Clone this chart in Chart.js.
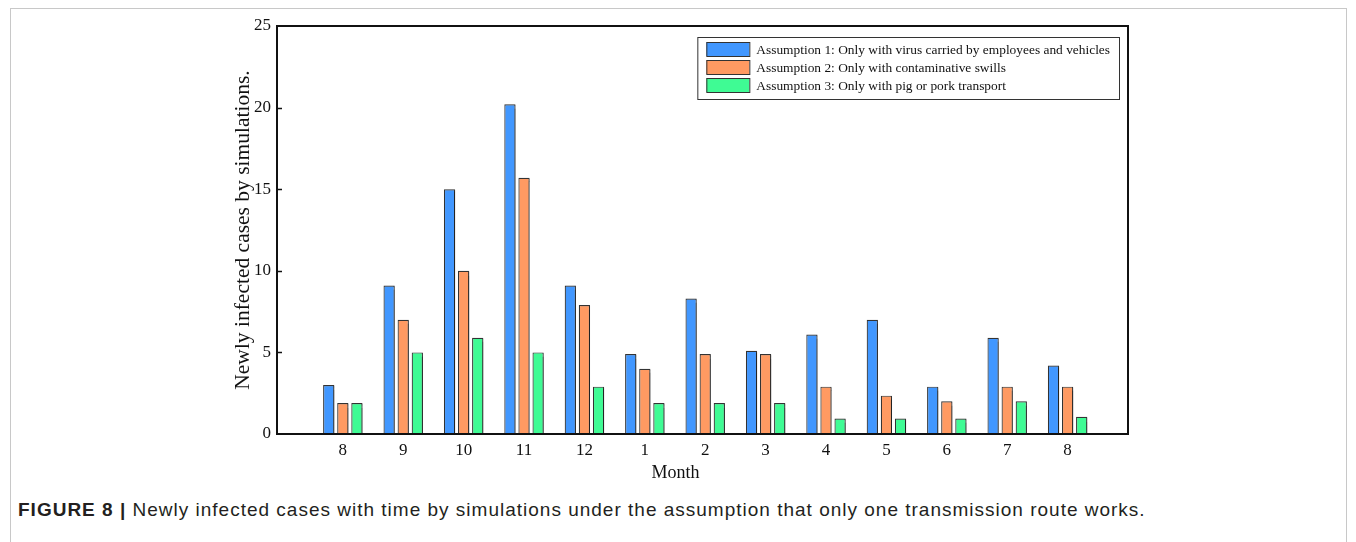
<!DOCTYPE html>
<html>
<head>
<meta charset="utf-8">
<script src="https://cdn.jsdelivr.net/npm/chart.js@4"></script>
<style>
  html, body { margin: 0; padding: 0; background: #fff; }
  body { width: 1356px; height: 542px; position: relative; overflow: hidden; }
  #frame { position: absolute; left: 10px; top: 8px; width: 1335px; height: 560px;
           border: 1px solid #c8c8c8; }
  #chart { position: absolute; left: 0; top: 0; }
  #caption { position: absolute; left: 18px; top: 499px; font-family: 'Liberation Sans', Arial, sans-serif;
             font-size: 19px; color: #231f20; white-space: nowrap; letter-spacing: 1px; }
  #caption b { font-weight: bold; }
</style>
</head>
<body>
<div id="frame"></div>
<canvas id="chart" width="1356" height="490"></canvas>
<div id="caption"><b>FIGURE 8 |</b> Newly infected cases with time by simulations under the assumption that only one transmission route works.</div>
<script>
// months from August to next August
const months = ['8', '9', '10', '11', '12', '1', '2', '3', '4', '5', '6', '7', '8'];

const assumption1 = [3, 9.1, 15, 20.2, 9.1, 4.9, 8.3, 5.1, 6.1, 7, 2.9, 5.9, 4.2];
const assumption2 = [1.9, 7, 10, 15.7, 7.9, 4, 4.9, 4.9, 2.9, 2.35, 2, 2.9, 2.9];
const assumption3 = [1.9, 5, 5.9, 5, 2.9, 1.9, 1.9, 1.9, 0.95, 0.95, 0.95, 2, 1.05];

const seriesNames = [
  'Assumption 1: Only with virus carried by employees and vehicles',
  'Assumption 2: Only with contaminative swills',
  'Assumption 3: Only with pig or pork transport'
];

const serif = "'Liberation Serif', 'Times New Roman', serif";

// month index -> point on the x axis
function toPoints(arr) {
  return arr.map(function (v, i) { return { x: i, y: v }; });
}

const shadowPlugin = {
  id: 'barShadow',
  beforeDatasetsDraw: function (chart) {
    const ctx = chart.ctx;
    ctx.save();
    ctx.shadowColor = 'rgba(0,0,0,0.3)';
    ctx.shadowOffsetX = 1.5;
    ctx.shadowOffsetY = 1;
    ctx.shadowBlur = 1;
  },
  afterDatasetsDraw: function (chart) {
    chart.ctx.restore();
  }
};

const framePlugin = {
  id: 'frame',
  afterDraw: function (chart) {
    const ctx = chart.ctx;
    const a = chart.chartArea;
    const y = chart.scales.y;
    ctx.save();
    ctx.strokeStyle = '#111';
    ctx.lineWidth = 2;
    ctx.strokeRect(a.left, a.top, a.right - a.left, a.bottom - a.top);
    // inward ticks
    ctx.lineWidth = 1.5;
    y.ticks.forEach(function (t) {
      const py = Math.round(y.getPixelForValue(t.value)) + 0.5;
      if (t.value <= 0 || t.value >= 25) return;
      ctx.beginPath();
      ctx.moveTo(a.left, py);
      ctx.lineTo(a.left + 5, py);
      ctx.stroke();
    });

    // legend box
    ctx.font = '13.4px ' + serif;
    let textW = 0;
    chart.data.datasets.forEach(function (ds) {
      textW = Math.max(textW, ctx.measureText(ds.label).width);
    });
    const boxW = 9 + 43 + 7 + textW + 9;
    const boxH = 62;
    const bx = a.right - 9 - boxW;
    const by = a.top + 11;
    ctx.fillStyle = '#fff';
    ctx.fillRect(bx, by, boxW, boxH);
    ctx.strokeStyle = '#333';
    ctx.lineWidth = 1;
    ctx.strokeRect(bx + 0.5, by + 0.5, boxW, boxH);
    ctx.textBaseline = 'middle';
    chart.data.datasets.forEach(function (ds, i) {
      const cy = by + 12 + i * 18;
      ctx.fillStyle = ds.backgroundColor;
      ctx.fillRect(bx + 9, cy - 7, 43, 14);
      ctx.strokeStyle = '#333';
      ctx.strokeRect(bx + 9.5, cy - 6.5, 43, 14);
      ctx.fillStyle = '#111';
      ctx.fillText(ds.label, bx + 59, cy + 1);
    });
    ctx.restore();
  }
};

const ctx = document.getElementById('chart').getContext('2d');

new Chart(ctx, {
  type: 'bar',
  data: {
    datasets: [
      { label: seriesNames[0], data: toPoints(assumption1), backgroundColor: '#4197ff' },
      { label: seriesNames[1], data: toPoints(assumption2), backgroundColor: '#ff9a62' },
      { label: seriesNames[2], data: toPoints(assumption3), backgroundColor: '#3ffb94' }
    ]
  },
  options: {
    responsive: false,
    animation: false,
    layout: { padding: { left: 230, right: 228, top: 26, bottom: 0 } },
    datasets: {
      bar: {
        borderColor: '#333',
        borderWidth: 1.2,
        categoryPercentage: 0.7,
        barPercentage: 0.8
      }
    },
    plugins: {
      legend: { display: false },
      tooltip: { enabled: false }
    },
    scales: {
      x: {
        type: 'linear',
        min: -1.09,
        max: 13,
        offset: false,
        grid: { display: false, drawTicks: false },
        border: { display: false },
        ticks: {
          stepSize: 1,
          autoSkip: false, maxRotation: 0, padding: 6,
          color: '#111', font: { family: serif, size: 17 },
          callback: function (value) {
            return Number.isInteger(value) && months[value] !== undefined ? months[value] : '';
          }
        },
        title: {
          display: true, text: 'Month' + '\u00a0'.repeat(12), color: '#111',
          font: { family: serif, size: 18 },
          padding: { top: 2, bottom: 6 }
        },
        afterFit: function (scale) { scale.height = 56; }
      },
      y: {
        min: 0,
        max: 25,
        grid: { display: false, drawTicks: false },
        border: { display: false },
        ticks: {
          stepSize: 5, padding: 6,
          color: '#111', font: { family: serif, size: 17 }
        },
        title: {
          display: true, text: 'Newly infected cases by simulations.', color: '#111',
          font: { family: serif, size: 21.5 },
          padding: { top: 0, bottom: 0 }
        },
        afterFit: function (scale) { scale.width = 47; }
      }
    }
  },
  plugins: [shadowPlugin, framePlugin]
});
</script>
</body>
</html>
